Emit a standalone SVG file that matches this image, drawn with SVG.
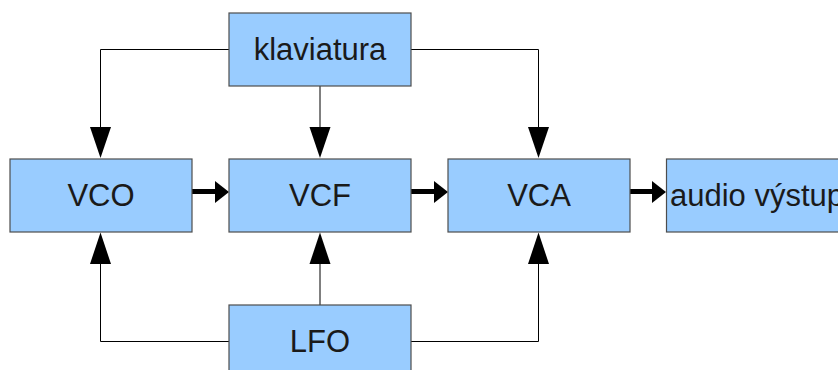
<svg xmlns="http://www.w3.org/2000/svg" width="838" height="370" viewBox="0 0 838 370">
  <style>
    .box { fill: #99ccff; stroke: #4d4d4d; stroke-width: 1.2; }
    .lbl { font-family: "Liberation Sans", Arial, sans-serif; font-size: 31px; fill: #1a1a1a; text-anchor: middle; }
    .thin { fill: none; stroke: #000; stroke-width: 1; }
    .thick { fill: none; stroke: #000; stroke-width: 5; }
    .head { fill: #000; }
  </style>
  <rect width="838" height="370" fill="#fff"/>

  <g id="connectors">
    <!-- klaviatura to VCO / VCF / VCA -->
    <polyline class="thin" points="229,49.5 100.5,49.5 100.5,128"/>
    <polygon class="head" points="90,127 111,127 100.5,158"/>
    <line class="thin" x1="320" y1="86" x2="320" y2="128"/>
    <polygon class="head" points="309.5,127 330.5,127 320,158"/>
    <polyline class="thin" points="411,49.5 538.5,49.5 538.5,128"/>
    <polygon class="head" points="528,127 549,127 538.5,158"/>

    <!-- LFO to VCO / VCF / VCA -->
    <polyline class="thin" points="229,341.5 100.5,341.5 100.5,262"/>
    <polygon class="head" points="90,264 111,264 100.5,232.5"/>
    <line class="thin" x1="320" y1="305" x2="320" y2="262"/>
    <polygon class="head" points="309.5,264 330.5,264 320,232.5"/>
    <polyline class="thin" points="411,341.5 538.5,341.5 538.5,262"/>
    <polygon class="head" points="528,264 549,264 538.5,232.5"/>

    <!-- audio signal chain -->
    <line class="thick" x1="192" y1="191.5" x2="216" y2="191.5"/>
    <polygon class="head" points="215,181 229,192 215,203"/>
    <line class="thick" x1="411" y1="191.5" x2="435" y2="191.5"/>
    <polygon class="head" points="434,181 448,192 434,203"/>
    <line class="thick" x1="630" y1="191.5" x2="653" y2="191.5"/>
    <polygon class="head" points="652,181 666,192 652,203"/>
  </g>

  <g id="klaviatura">
    <rect class="box" x="229" y="13" width="182" height="73"/>
    <text class="lbl" x="320" y="60">klaviatura</text>
  </g>
  <g id="vco">
    <rect class="box" x="10" y="159" width="182" height="73"/>
    <text class="lbl" x="101" y="206">VCO</text>
  </g>
  <g id="vcf">
    <rect class="box" x="229" y="159" width="182" height="73"/>
    <text class="lbl" x="320" y="206">VCF</text>
  </g>
  <g id="vca">
    <rect class="box" x="448" y="159" width="182" height="73"/>
    <text class="lbl" x="539" y="206">VCA</text>
  </g>
  <g id="audio">
    <rect class="box" x="666.5" y="159" width="182" height="73"/>
    <text class="lbl" x="670" y="206" style="text-anchor: start">audio výstup</text>
  </g>
  <g id="lfo">
    <rect class="box" x="229" y="305" width="182" height="73"/>
    <text class="lbl" x="320" y="352">LFO</text>
  </g>
</svg>
